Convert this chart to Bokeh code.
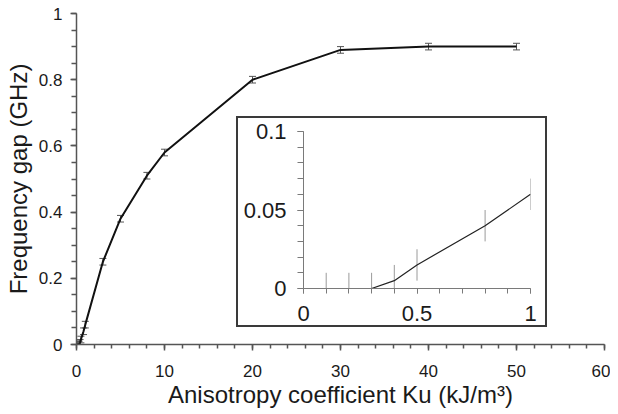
from bokeh.plotting import figure
from bokeh.models import ColumnDataSource, Whisker, TeeHead, FixedTicker, Range1d
from bokeh.embed import file_html
from bokeh.resources import INLINE

# ---- data ----
ku = [0.1, 0.2, 0.3, 0.4, 0.5, 0.8, 1, 3, 5, 8, 10, 20, 30, 40, 50]
gap = [0.0, 0.0, 0.0, 0.005, 0.015, 0.04, 0.06, 0.25, 0.38, 0.51, 0.58, 0.80, 0.89, 0.90, 0.90]
gap_err = [0.01, 0.01, 0.01, 0.01, 0.01, 0.01, 0.01, 0.01, 0.01, 0.01, 0.01, 0.01, 0.01, 0.01, 0.01]
line_start_ku = [0.0]
line_start_gap = [0.0]

main_x_ticks = [0, 10, 20, 30, 40, 50, 60]
main_x_labels = ["0", "10", "20", "30", "40", "50", "60"]
main_y_ticks = [0, 0.2, 0.4, 0.6, 0.8, 1]
main_y_labels = ["0", "0.2", "0.4", "0.6", "0.8", "1"]
inset_x_ticks = [0, 0.5, 1]
inset_x_labels = ["0", "0.5", "1"]
inset_y_ticks = [0, 0.05, 0.1]
inset_y_labels = ["0", "0.05", "0.1"]

x_label = "Anisotropy coefficient Ku (kJ/m\u00b3)"
y_label = "Frequency gap (GHz)"

FONT = "Liberation Sans"
TXT = "#1a1a1a"

main_x_minor = [2 * i for i in range(31)]
main_y_minor = [round(0.05 * i, 4) for i in range(21)]
inset_x_minor = [round(0.1 * i, 4) for i in range(11)]
inset_y_minor = [round(0.01 * i, 4) for i in range(11)]

line_x = line_start_ku + ku
line_y = line_start_gap + gap
lower = [g - e for g, e in zip(gap, gap_err)]
upper = [g + e for g, e in zip(gap, gap_err)]
src = ColumnDataSource(dict(x=ku, y=gap, lo=lower, up=upper))


def style_axis(ax, ticks, labels, minor, tick_font, tick_out, minor_out, line_color, line_width, standoff):
    ax.ticker = FixedTicker(ticks=ticks, minor_ticks=minor)
    ax.major_label_overrides = {t: l for t, l in zip(ticks, labels)}
    ax.axis_line_color = line_color
    ax.axis_line_width = line_width
    ax.major_tick_line_color = line_color
    ax.major_tick_line_width = line_width
    ax.minor_tick_line_color = line_color
    ax.minor_tick_line_width = line_width
    ax.major_tick_in = 0
    ax.major_tick_out = tick_out
    ax.minor_tick_in = 0
    ax.minor_tick_out = minor_out
    ax.major_label_text_font = FONT
    ax.major_label_text_font_size = tick_font
    ax.major_label_text_color = TXT
    ax.major_label_standoff = standoff


# ---- main plot ----
p = figure(width=610, height=412, x_range=Range1d(0, 60), y_range=Range1d(0, 1),
           output_backend="svg", toolbar_location=None,
           min_border_left=76, min_border_right=6, min_border_top=13, min_border_bottom=68)
p.outline_line_color = None
p.grid.visible = False
p.background_fill_color = "white"
p.border_fill_color = "white"

style_axis(p.xaxis[0], main_x_ticks, main_x_labels, main_x_minor, "17px", 6, 4, "#555555", 1.5, 14)
style_axis(p.yaxis[0], main_y_ticks, main_y_labels, main_y_minor, "17px", 6, 5, "#555555", 1.5, 8)
for ax in (p.xaxis[0], p.yaxis[0]):
    ax.axis_label_text_font = FONT
    ax.axis_label_text_font_size = "24px"
    ax.axis_label_text_font_style = "normal"
    ax.axis_label_text_color = TXT
p.xaxis[0].axis_label = x_label
p.yaxis[0].axis_label = y_label
p.xaxis[0].axis_label_standoff = 1
p.yaxis[0].axis_label_standoff = 4

p.line(line_x, line_y, line_color="#111111", line_width=2)
p.add_layout(Whisker(source=src, base="x", upper="up", lower="lo", dimension="height",
                     line_color="#555555", line_width=1,
                     upper_head=TeeHead(size=7, line_color="#555555", line_width=1),
                     lower_head=TeeHead(size=7, line_color="#555555", line_width=1)))

# ---- inset ----
n_in = sum(1 for k in ku if k <= 1)
in_src = ColumnDataSource(dict(x=ku[:n_in], lo=lower[:n_in], up=upper[:n_in]))

q = figure(width=311, height=211, x_range=Range1d(0, 1), y_range=Range1d(0, 0.1),
           output_backend="svg", toolbar_location=None,
           min_border_left=65, min_border_right=19, min_border_top=13, min_border_bottom=41,
           styles={"position": "absolute", "left": "236px", "top": "116px",
                   "border": "2px solid #3a3a3a", "background-color": "white", "z-index": "5"})
q.outline_line_color = None
q.grid.visible = False
q.background_fill_color = "white"
q.border_fill_color = "white"
style_axis(q.xaxis[0], inset_x_ticks, inset_x_labels, inset_x_minor, "22px", 5, 5, "#7a7a7a", 1, 12)
style_axis(q.yaxis[0], inset_y_ticks, inset_y_labels, inset_y_minor, "22px", 6, 6, "#7a7a7a", 1, 11)

q.segment(x0="x", y0="lo", x1="x", y1="up", source=in_src, line_color="#9a9a9a", line_width=1)
q.line(line_start_ku + ku[:n_in], line_start_gap + gap[:n_in], line_color="#222222", line_width=1.2)

open("out.html", "w").write(file_html([p, q], INLINE))
